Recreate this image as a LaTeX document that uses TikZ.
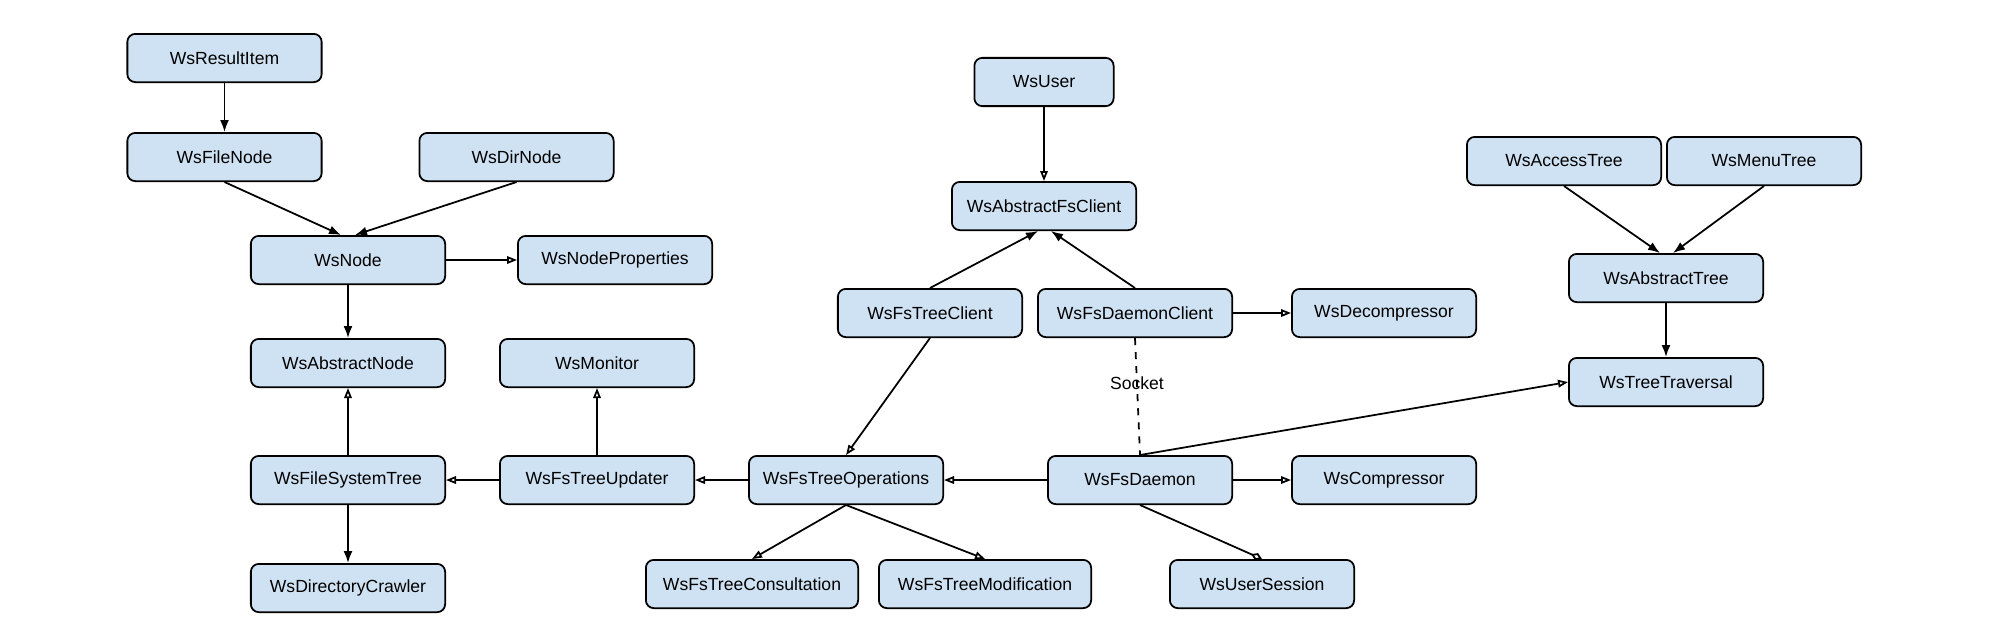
\documentclass[tikz,border=0pt]{standalone}
\usepackage{fontspec}
\setmainfont{Liberation Sans}
\usepackage{xcolor}
\usetikzlibrary{arrows.meta,positioning}
\definecolor{clsblue}{HTML}{CFE2F3}

\begin{document}
\begin{tikzpicture}[
    cls/.style={draw, line width=1pt, rounded corners=4.5pt, fill=clsblue,
                minimum height=0.965cm, minimum width=#1, inner sep=0pt,
                font=\fontsize{10}{12}\selectfont},
    cls/.default=3.885cm,
    arr/.style={-{Latex[length=0.24cm,width=0.18cm]}, line width=1pt},
    inh/.style={-{Triangle[open,length=0.2cm,width=0.15cm]}, line width=1pt},
    agg/.style={-{Diamond[open,length=0.24cm,width=0.15cm]}, line width=1pt},
    link/.style={line width=1pt, dash pattern=on 4pt off 4pt},
    lbl/.style={font=\fontsize{10}{12}\selectfont, inner sep=1pt},
  ]
  \useasboundingbox (0,0) rectangle (40,-12.86);

  % node side
  \node[cls] (res) at (4.49,-1.16) {WsResultItem};
  \node[cls, below=0.98 of res] (file) {WsFileNode};
  \node[cls, right=1.92 of file] (dir) {WsDirNode};
  \node[cls] (node) at (6.96,-5.2) {WsNode};
  \node[cls, right=1.42 of node] (props) {WsNodeProperties};
  \node[cls, below=1.06 of node] (absnode) {WsAbstractNode};
  \node[cls, below=1.34 of absnode] (fstree) {WsFileSystemTree};
  \node[cls, below=1.16 of fstree] (crawler) {WsDirectoryCrawler};
  \node[cls, right=1.06 of fstree] (updater) {WsFsTreeUpdater};
  \node[cls, above=1.34 of updater] (monitor) {WsMonitor};
  \node[cls, right=1.06 of updater] (treeops) {WsFsTreeOperations};
  \node[cls=4.245cm] (consult) at (15.04,-11.68) {WsFsTreeConsultation};
  \node[cls=4.245cm, right=0.38 of consult] (modif) {WsFsTreeModification};

  % client / daemon
  \node[cls=3.685cm, right=2.06 of treeops] (daemon) {WsFsDaemon};
  \node[cls=3.685cm, right=1.16 of daemon] (comp) {WsCompressor};
  \node[cls=3.685cm] (session) at (25.24,-11.68) {WsUserSession};
  \node[cls] (dclient) at (22.7,-6.26) {WsFsDaemonClient};
  \node[cls=3.685cm, right=1.16 of dclient] (decomp) {WsDecompressor};
  \node[cls=3.685cm, left=0.28 of dclient] (tclient) {WsFsTreeClient};
  \node[cls=3.685cm] (afsclient) at (20.88,-4.12) {WsAbstractFsClient};
  \node[cls=2.785cm, above=1.48 of afsclient] (user) {WsUser};

  % tree side
  \node[cls] (access) at (31.28,-3.22) {WsAccessTree};
  \node[cls, right=0.08 of access] (menu) {WsMenuTree};
  \node[cls] (abstree) at (33.32,-5.56) {WsAbstractTree};
  \node[cls, below=1.08 of abstree] (traversal) {WsTreeTraversal};

  \draw[arr] (res) -- (file);
  \draw[arr] (file.south) -- ([xshift=-0.14cm]node.north);
  \draw[arr] (dir.south) -- ([xshift=0.14cm]node.north);
  \draw[inh] (node) -- (props);
  \draw[arr] (node) -- (absnode);
  \draw[inh] (fstree) -- (absnode);
  \draw[arr] (fstree) -- (crawler);
  \draw[inh] (updater) -- (fstree);
  \draw[inh] (updater) -- (monitor);
  \draw[inh] (treeops) -- (updater);
  \draw[inh] (treeops.south) -- (consult.north);
  \draw[inh] (treeops.south) -- (modif.north);
  \draw[inh] (tclient.south) -- (treeops.north);
  \draw[inh] (daemon) -- (treeops);
  \draw[inh] (daemon) -- (comp);
  \draw[agg] (daemon.south) -- (session.north);
  \draw[inh] (daemon.north) -- (traversal.west);
  \draw[link] (dclient.south) -- node[lbl, pos=0.39] (socket) {Socket} (daemon.north);
  \draw[arr] (tclient.north) -- ([xshift=-0.12cm]afsclient.south);
  \draw[arr] (dclient.north) -- ([xshift=0.14cm]afsclient.south);
  \draw[inh] (dclient) -- (decomp);
  \draw[inh] (user) -- (afsclient);
  \draw[arr] (access.south) -- ([xshift=-0.12cm]abstree.north);
  \draw[arr] (menu.south) -- ([xshift=0.14cm]abstree.north);
  \draw[arr] (abstree) -- (traversal);
\end{tikzpicture}
\end{document}
